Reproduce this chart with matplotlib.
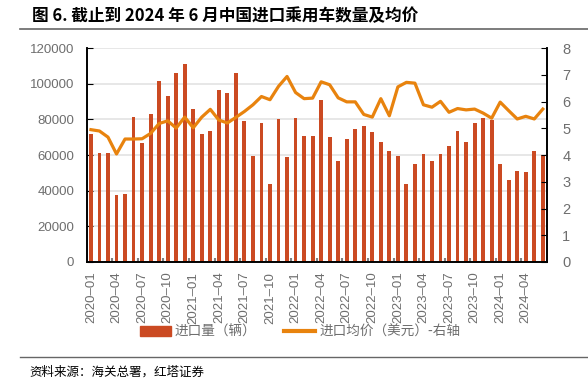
import matplotlib
matplotlib.use("Agg")
import matplotlib.pyplot as plt
from matplotlib.lines import Line2D
from matplotlib.patches import Patch

plt.rcParams['font.family'] = ['Noto Sans CJK SC', 'DejaVu Sans']

months = [f"{y}–{m:02d}" for y in range(2020, 2025) for m in range(1, 13)][:54]

volume = [72000, 61300, 61100, 37600, 37900, 81500, 66700, 83000, 101500, 93300,
          105800, 111200, 86000, 72000, 73300, 96600, 94800, 106000, 78900, 59400,
          78100, 43600, 80200, 58900, 80600, 70800, 70800, 91000, 69900, 56800,
          69000, 74800, 76300, 72900, 67300, 62400, 59600, 43900, 55100, 60800,
          56800, 60800, 64900, 73300, 67300, 77900, 80900, 79400, 55000, 45800,
          51200, 50500, 62100, 60200]

price = [4.95, 4.90, 4.67, 4.04, 4.60, 4.60, 4.61, 4.81, 5.18, 5.28,
         5.01, 5.42, 5.02, 5.42, 5.71, 5.31, 5.20, 5.41, 5.63, 5.88,
         6.19, 6.07, 6.57, 6.94, 6.34, 6.11, 6.13, 6.74, 6.63, 6.14,
         5.99, 5.99, 5.52, 5.42, 6.11, 5.47, 6.55, 6.72, 6.69, 5.88,
         5.79, 6.01, 5.60, 5.74, 5.69, 5.72, 5.57, 5.38, 5.98, 5.66,
         5.35, 5.45, 5.35, 5.72]

bar_color = '#CB4A22'
line_color = '#E8830E'
grey = '#6E6E6E'
tick_font = ['Liberation Sans', 'DejaVu Sans']

fig = plt.figure(figsize=(5.88, 3.85), dpi=100)
ax = fig.add_axes([0.1474, 0.3195, 0.783, 0.5555])
ax2 = ax.twinx()

x = list(range(len(months)))
ax.bar(x, volume, width=0.45, color=bar_color, zorder=2)
ax2.plot(x, price, color=line_color, lw=2.3, zorder=3)

ax.set_xlim(-0.5, 53.5)
ax.set_ylim(0, 120000)
ax2.set_ylim(0, 8)
ax.set_yticks(range(0, 120001, 20000))
ax2.set_yticks(range(0, 9))
ax.yaxis.grid(True, color='#E3E3E3', lw=1.2, zorder=0)
ax.set_axisbelow(True)

ax.set_xticks(x[::3])
ax.set_xticks([i + 2.5 for i in range(0, 51, 3)], minor=True)
ax.set_xticklabels(months[::3], rotation=90, fontsize=9.5, color=grey,
                   family=tick_font)
ax.tick_params(axis='x', which='major', length=0, pad=7)
ax.tick_params(axis='x', which='minor', direction='in', length=3,
               color='#808080', width=1.5)
ax.tick_params(axis='y', direction='in', length=4, color='black', labelsize=9.5,
               labelcolor=grey, pad=9)
ax2.tick_params(axis='y', direction='in', length=4, color='black', labelsize=10.5,
                labelcolor=grey, pad=11)
for a in (ax, ax2):
    a.spines['top'].set_visible(False)
    for s in ('left', 'right', 'bottom'):
        a.spines[s].set_color('black')
        a.spines[s].set_linewidth(1.2)
for lab in ax.get_yticklabels() + ax2.get_yticklabels():
    lab.set_family(tick_font)

handles = [Patch(color=bar_color), Line2D([0], [0], color=line_color, lw=3)]
fig.legend(handles, ['进口量（辆）', '进口均价（美元）-右轴'], loc='center',
           bbox_to_anchor=(0.51, 0.138), ncol=2, frameon=False, fontsize=9.8,
           labelcolor=grey, handlelength=2.3, columnspacing=2.0, handletextpad=0.3)

fig.text(0.054, 0.957, '图 6. 截止到 2024 年 6 月中国进口乘用车数量及均价',
         fontsize=12, fontweight='bold', va='center', ha='left', color='black')
fig.add_artist(Line2D([0.034, 1.0], [0.924, 0.924], color='#666666', lw=1.2))
fig.add_artist(Line2D([0.034, 1.0], [0.073, 0.073], color='#666666', lw=1.0))
fig.text(0.050, 0.033, '资料来源：海关总署，红塔证券', fontsize=9, va='center',
         ha='left', color='black')

fig.savefig('out.png', dpi=100)
